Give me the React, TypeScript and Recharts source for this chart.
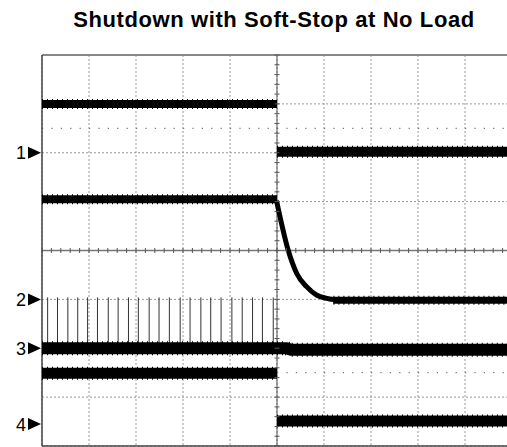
import { LineChart, Line, XAxis, YAxis, CartesianGrid, ReferenceLine, Scatter } from 'recharts';

// time in divisions (10 across), level in divisions (8 high, 0 = bottom)
const X_TICKS = [0, 1, 2, 3, 4, 5, 6, 7, 8, 9, 10];
const Y_TICKS = [0, 1, 2, 3, 4, 5, 6, 7, 8];

const CH1_BEFORE = [{ t: 0, v: 7.0 }, { t: 5, v: 7.0 }];
const CH1_AFTER = [{ t: 5, v: 6.02 }, { t: 10, v: 6.02 }];
const CH2_BEFORE = [{ t: 0, v: 5.05 }, { t: 5, v: 5.05 }];
const CH2_DECAY = [
  { t: 4.99, v: 5.02 },
  { t: 5.24, v: 4.0 },
  { t: 5.42, v: 3.53 },
  { t: 5.63, v: 3.26 },
  { t: 5.84, v: 3.09 },
  { t: 6.06, v: 3.02 },
  { t: 6.4, v: 2.98 },
];
const CH2_SETTLED = [{ t: 6.2, v: 2.98 }, { t: 10, v: 2.98 }];
const CH3 = [{ t: 0, v: 2.0 }, { t: 5.2, v: 2.0 }, { t: 5.3, v: 1.97 }, { t: 10, v: 1.97 }];
const CH4_BEFORE = [{ t: 0, v: 1.49 }, { t: 5, v: 1.49 }];
const CH4_AFTER = [{ t: 5, v: 0.51 }, { t: 10, v: 0.51 }];

const SPIKE_T = [0.12, 0.33, 0.55, 0.76, 0.97, 1.18, 1.41, 1.62, 1.84, 2.05, 2.28, 2.49,
  2.71, 2.94, 3.15, 3.38, 3.59, 3.81, 4.04, 4.26, 4.48, 4.69, 4.92];
const SPIKE_BASE = 2.0;
const SPIKE_TOP = 3.04;

const MARKERS = [
  { t: 0, v: 6.0, n: '1' },
  { t: 0, v: 3.0, n: '2' },
  { t: 0, v: 2.0, n: '3' },
  { t: 0, v: 0.45, n: '4' },
];

const CURSOR_LEVELS = [6.5, 1.5];

// minor ticks on the centre cross, every 1/5 division
const MINOR_H = Array.from({ length: 51 }, (_, i) => ({ t: i / 5, v: 4 }));
const MINOR_V = Array.from({ length: 41 }, (_, i) => ({ t: 5, v: i / 5 }));

const FONT = "'Liberation Sans', Arial, sans-serif";

const HTick = (p: any) => <line x1={p.cx} x2={p.cx} y1={p.cy - 2.5} y2={p.cy + 2.5} stroke="#555" strokeWidth={1} />;
const VTick = (p: any) => <line x1={p.cx - 2.5} x2={p.cx + 2.5} y1={p.cy} y2={p.cy} stroke="#555" strokeWidth={1} />;

const Marker = (p: any) => (
  <g>
    <text x={p.cx - 16} y={p.cy + 6.5} textAnchor="end" fontSize={18} fontFamily={FONT} fill="#000">
      {p.payload.n}
    </text>
    <polygon points={`${p.cx - 14},${p.cy - 6} ${p.cx - 1},${p.cy} ${p.cx - 14},${p.cy + 6}`} fill="#000" />
  </g>
);

const line = (data: any[], width: number, key: string, type: any = 'linear', dash?: string) => (
  <Line
    key={key}
    data={data}
    dataKey="v"
    type={type}
    stroke="#000"
    strokeWidth={width}
    strokeDasharray={dash}
    strokeLinecap="butt"
    dot={false}
    activeDot={false}
    isAnimationActive={false}
  />
);

// noisy band: solid core plus a ragged fringe
const band = (data: any[], width: number, key: string) => [
  line(data, width + 2, key + 'f', 'linear', '1 4'),
  line(data, width, key),
];

export default function App() {
  return (
    <div style={{ position: 'absolute', left: 0, top: 0, width: 507, height: 447, overflow: 'hidden', background: '#fff' }}>
      <div
        style={{
          position: 'absolute', left: 0, top: 8, width: 548, textAlign: 'center',
          fontFamily: FONT, fontWeight: 'bold', fontSize: 22, letterSpacing: 0.6, lineHeight: '24px', color: '#000',
          whiteSpace: 'nowrap',
        }}
      >
        Shutdown with Soft-Stop at No Load
      </div>
      <LineChart width={520} height={447} margin={{ top: 55, right: 8, bottom: 1, left: 42 }}>
        <XAxis dataKey="t" type="number" domain={[0, 10]} ticks={X_TICKS} hide />
        <YAxis dataKey="v" type="number" domain={[0, 8]} ticks={Y_TICKS} hide />
        <CartesianGrid stroke="#999" strokeDasharray="2 2" />
        {CURSOR_LEVELS.map((y) => (
          <ReferenceLine key={y} y={y} stroke="#777" strokeWidth={1.2} strokeDasharray="1.2 8.2" />
        ))}
        <ReferenceLine x={5} stroke="#555" strokeWidth={1} />
        <ReferenceLine y={4} stroke="#777" strokeWidth={1.5} />
        <ReferenceLine y={8} stroke="#888" strokeWidth={2} />
        <ReferenceLine y={0} stroke="#444" strokeWidth={1.5} />
        <ReferenceLine x={0} stroke="#444" strokeWidth={1.5} />
        <Scatter data={MINOR_H} shape={HTick} isAnimationActive={false} />
        <Scatter data={MINOR_V} shape={VTick} isAnimationActive={false} />
        {SPIKE_T.map((t) => (
          <ReferenceLine key={t} segment={[{ x: t, y: SPIKE_BASE }, { x: t, y: SPIKE_TOP }]} stroke="#333" strokeWidth={1} />
        ))}
        {band(CH1_BEFORE, 8, 'c1b')}
        {band(CH1_AFTER, 10, 'c1a')}
        {band(CH2_BEFORE, 8, 'c2b')}
        {line(CH2_DECAY, 5, 'c2d', 'monotone')}
        {band(CH2_SETTLED, 7, 'c2s')}
        {band(CH3, 12, 'c3')}
        {band(CH4_BEFORE, 11, 'c4b')}
        {band(CH4_AFTER, 11, 'c4a')}
        <Scatter data={MARKERS} shape={Marker} isAnimationActive={false} />
      </LineChart>
    </div>
  );
}
